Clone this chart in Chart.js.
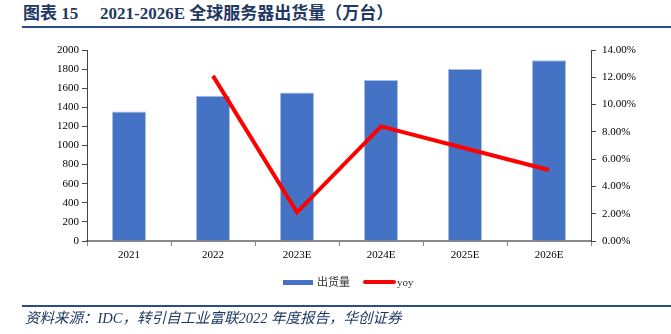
<!DOCTYPE html>
<html>
<head>
<meta charset="utf-8">
<script src="https://cdn.jsdelivr.net/npm/chart.js@4.4.0/dist/chart.umd.min.js"></script>
<style>
  html, body { margin: 0; padding: 0; background: #fff; }
  #wrap { position: relative; width: 671px; height: 334px; overflow: hidden; }
  #chart-box { position: absolute; left: 0; top: 0; width: 671px; height: 334px; }
  .title { position: absolute; top: 3px; font: bold 17px "Liberation Serif", "Noto Sans CJK SC", serif; color: #1F3864; line-height: 21px; white-space: nowrap; }
  .rule { position: absolute; left: 22px; right: 0; height: 2px; background: #2B4C8C; }
  .source { position: absolute; left: 25px; top: 309px; font: italic 14.5px "Liberation Serif", "Noto Sans CJK SC", serif; color: #1F3864; line-height: 18px; white-space: nowrap; }
  .legend-text { position: absolute; top: 274px; font: 11px "Liberation Serif", "Noto Sans CJK SC", serif; color: #333; line-height: 16px; white-space: nowrap; }
</style>
</head>
<body>
<div id="wrap">
  <div class="title" style="left:23px;">图表 15</div>
  <div class="title" style="left:100px;">2021-2026E 全球服务器出货量（万台）</div>
  <div class="rule" style="top:26px;"></div>

  <div id="chart-box"><canvas id="shipments-chart"></canvas></div>

  <!-- legend -->
  <div style="position:absolute;left:283px;top:280px;width:30px;height:5px;background:#4472C4;"></div>
  <div class="legend-text" style="left:317px;">出货量</div>
  <div style="position:absolute;left:363px;top:280px;width:33px;height:4px;background:#FF0000;border-radius:2px;"></div>
  <div class="legend-text" style="left:397px;">yoy</div>

  <div class="rule" style="top:305px;"></div>
  <div class="source">资料来源：IDC，转引自工业富联2022 年度报告，华创证券</div>
</div>

<script>
// Chart data
const years = ['2021', '2022', '2023E', '2024E', '2025E', '2026E'];
const shipments = [1355, 1522, 1554, 1686, 1801, 1892];   // 万台
const yoy = [null, 12.1, 2.1, 8.4, 6.8, 5.2];              // %

Chart.defaults.font.family = '"Liberation Serif", "Noto Sans CJK SC", serif';
Chart.defaults.font.size = 11;
Chart.defaults.color = '#000';

const ctx = document.getElementById('shipments-chart').getContext('2d');
const shipmentsChart = new Chart(ctx, {
    type: 'bar',
    data: {
        labels: years,
        datasets: [
            {
                type: 'line',
                label: 'yoy',
                data: yoy,
                yAxisID: 'y1',
                borderColor: '#FF0000',
                backgroundColor: '#FF0000',
                borderWidth: 4,
                pointRadius: 0,
                tension: 0,
                spanGaps: false,
                order: 0
            },
            {
                label: '出货量',
                data: shipments,
                yAxisID: 'y',
                backgroundColor: '#4472C4',
                borderColor: '#A9BEE6',
                borderWidth: 1,
                barPercentage: 0.405,
                categoryPercentage: 1,
                order: 1
            }
        ]
    },
    options: {
        responsive: true,
        maintainAspectRatio: false,
        animation: false,
        layout: {
            padding: { top: 50, bottom: 63, left: 0, right: 0 }
        },
        plugins: {
            legend: { display: false },
            tooltip: { enabled: false }
        },
        scales: {
            x: {
                grid: {
                    display: true,
                    drawOnChartArea: false,
                    drawTicks: true,
                    tickLength: 5,
                    color: '#888'
                },
                border: { display: true, color: '#888', width: 2 },
                ticks: { padding: 3, maxRotation: 0 },
                afterFit: function(scale) { scale.height = 30; }
            },
            y: {
                position: 'left',
                min: 0,
                max: 2000,
                ticks: {
                    stepSize: 200,
                    padding: 3,
                    callback: function(value) { return String(value); }
                },
                grid: {
                    display: true,
                    drawOnChartArea: false,
                    drawTicks: true,
                    tickLength: 5,
                    color: '#444'
                },
                border: { display: true, color: '#444', width: 1 },
                afterFit: function(scale) { scale.width = 87; }
            },
            y1: {
                position: 'right',
                min: 0,
                max: 14,
                ticks: {
                    stepSize: 2,
                    padding: 6,
                    callback: function(value) { return value.toFixed(2) + '%'; }
                },
                grid: {
                    display: true,
                    drawOnChartArea: false,
                    drawTicks: true,
                    tickLength: 5,
                    color: '#444'
                },
                border: { display: true, color: '#444', width: 1 },
                afterFit: function(scale) { scale.width = 80; }
            }
        }
    }
});
</script>
</body>
</html>
